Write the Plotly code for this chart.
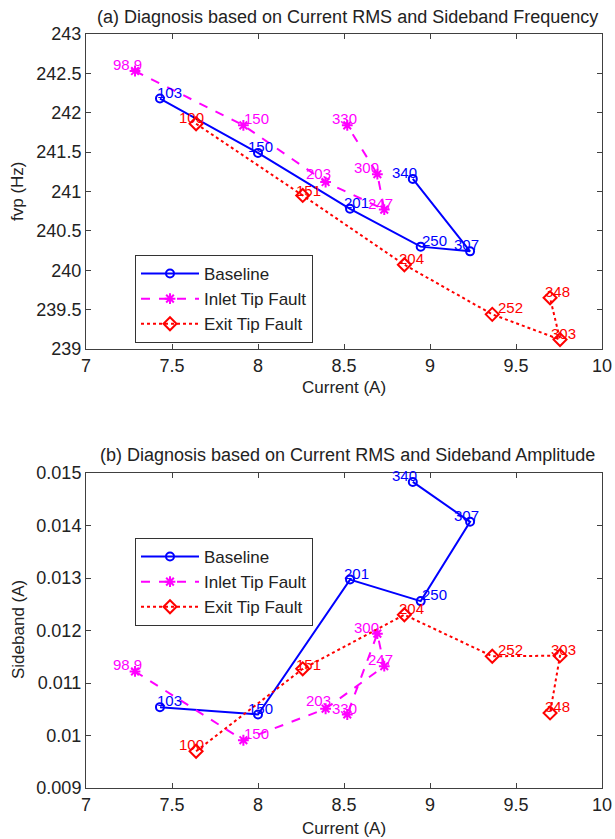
import plotly.graph_objects as go

# ---------------- data ----------------
current_baseline = [7.43, 8.00, 8.535, 8.946, 9.233, 8.90]
fvp_baseline = [242.18, 241.49, 240.78, 240.30, 240.24, 241.16]
sb_baseline = [0.01054, 0.01040, 0.01297, 0.01256, 0.01407, 0.01483]
labels_baseline = ["103", "150", "201", "250", "307", "340"]

current_inlet = [7.285, 7.915, 8.393, 8.734, 8.694, 8.519]
fvp_inlet = [242.53, 241.84, 241.12, 240.77, 241.22, 241.84]
sb_inlet = [0.01122, 0.00991, 0.01051, 0.01132, 0.01194, 0.01040]
labels_inlet = ["98.9", "150", "203", "247", "300", "330"]

current_exit = [7.64, 8.26, 8.851, 9.362, 9.756, 9.698]
fvp_exit = [241.86, 240.95, 240.07, 239.44, 239.12, 239.65]
sb_exit = [0.00970, 0.01127, 0.01230, 0.01151, 0.01152, 0.01043]
labels_exit = ["100", "151", "204", "252", "303", "348"]

x_ticks = [7, 7.5, 8, 8.5, 9, 9.5, 10]
x_ticktext = ["7", "7.5", "8", "8.5", "9", "9.5", "10"]
fvp_ticks = [239, 239.5, 240, 240.5, 241, 241.5, 242, 242.5, 243]
fvp_ticktext = ["239", "239.5", "240", "240.5", "241", "241.5", "242", "242.5", "243"]
sb_ticks = [0.009, 0.010, 0.011, 0.012, 0.013, 0.014, 0.015]
sb_ticktext = ["0.009", "0.01", "0.011", "0.012", "0.013", "0.014", "0.015"]

# label nudges (pixels), styling only
dx_baseline = [-4, -11, -7, 0, -17, -22]
dx_inlet = [-23, 0, -21, -17, -24, -16]
dx_exit = [-18, -8, -6, 5, -10, -6]
dy_baseline = [0, 0, 0, 0, 0, 0]
dy_inlet = [0, 0, 2, 0, 0, 0]
dy_exit = [0, -2, 0, 0, 0, 0]

FONT = "Liberation Sans, Arial, sans-serif"
BLUE, MAGENTA, RED = "#0000FF", "#FF00FF", "#FF0000"

series = [
    ("Baseline", current_baseline, fvp_baseline, sb_baseline, labels_baseline,
     dx_baseline, dy_baseline, BLUE, "solid", "circle-open", 8),
    ("Inlet Tip Fault", current_inlet, fvp_inlet, sb_inlet, labels_inlet,
     dx_inlet, dy_inlet, MAGENTA, "dash", "asterisk-open", 9),
    ("Exit Tip Fault", current_exit, fvp_exit, sb_exit, labels_exit,
     dx_exit, dy_exit, RED, "dot", "diamond-open", 10),
]

fig = go.Figure()
annotations = []

for name, cx, fy, sy, labs, dxs, dys, col, dash, sym, msize in series:
    for (yy, xa, ya, leg) in [(fy, "x", "y", "legend"), (sy, "x2", "y2", "legend2")]:
        fig.add_trace(go.Scatter(
            x=cx, y=yy, mode="lines+markers", name=name,
            xaxis=xa, yaxis=ya, legend=leg,
            line=dict(color=col, width=2, dash=dash),
            marker=dict(symbol=sym, size=msize, color=col,
                        line=dict(color=col, width=2)),
        ))
        for xv, yv, t, d, e in zip(cx, yy, labs, dxs, dys):
            annotations.append(dict(
                x=xv, y=yv, xref=xa, yref=ya, text=t, showarrow=False,
                xanchor="left", yanchor="bottom", xshift=d - 1, yshift=-4 + e,
                font=dict(family=FONT, size=15, color=col),
            ))

W, H = 615, 839
xdom = [86 / W, 602 / W]
ydom_top = [1 - 349 / H, 1 - 34 / H]
ydom_bot = [1 - 788 / H, 1 - 473 / H]

axis_common = dict(
    showline=True, linecolor="#404040", linewidth=1, mirror="ticks",
    ticks="inside", ticklen=5, tickcolor="#404040", showgrid=False,
    zeroline=False, tickfont=dict(family=FONT, size=18, color="#222222"),
    automargin=False,
)

legend_common = dict(
    xanchor="left", yanchor="top", bordercolor="#333333", borderwidth=1,
    bgcolor="white", font=dict(family=FONT, size=17, color="#222222"),
    tracegroupgap=0, itemwidth=58,
)

fig.update_layout(
    width=W, height=H, margin=dict(l=0, r=0, t=0, b=0),
    paper_bgcolor="white", plot_bgcolor="white",
    font=dict(family=FONT, color="#222222"),
    xaxis=dict(domain=xdom, range=[7, 10], tickvals=x_ticks, ticktext=x_ticktext,
               anchor="y", **axis_common),
    yaxis=dict(domain=ydom_top, range=[239, 243], tickvals=fvp_ticks,
               ticktext=fvp_ticktext, anchor="x", **axis_common),
    xaxis2=dict(domain=xdom, range=[7, 10], tickvals=x_ticks, ticktext=x_ticktext,
                anchor="y2", **axis_common),
    yaxis2=dict(domain=ydom_bot, range=[0.009, 0.015], tickvals=sb_ticks,
                ticktext=sb_ticktext, anchor="x2", **axis_common),
    legend=dict(x=135 / W, y=1 - 255 / H, **legend_common),
    legend2=dict(x=135 / W, y=1 - 538 / H, **legend_common),
    showlegend=True,
)

text_annots = [
    dict(text="(a) Diagnosis based on Current RMS and Sideband Frequency",
         x=347 / W, y=1 - 17 / H, size=18),
    dict(text="(b) Diagnosis based on Current RMS and Sideband Amplitude",
         x=347 / W, y=1 - 455 / H, size=18),
    dict(text="Current (A)", x=344 / W, y=1 - 387 / H, size=17),
    dict(text="Current (A)", x=344 / W, y=1 - 828 / H, size=17),
]
for a in text_annots:
    annotations.append(dict(
        text=a["text"], x=a["x"], y=a["y"], xref="paper", yref="paper",
        showarrow=False, xanchor="center", yanchor="middle",
        font=dict(family=FONT, size=a["size"], color="#222222"),
    ))
annotations.append(dict(text="fvp (Hz)", x=18 / W, y=1 - 191 / H, xref="paper",
                        yref="paper", showarrow=False, textangle=-90,
                        xanchor="center", yanchor="middle",
                        font=dict(family=FONT, size=17, color="#222222")))
annotations.append(dict(text="Sideband (A)", x=18 / W, y=1 - 630 / H, xref="paper",
                        yref="paper", showarrow=False, textangle=-90,
                        xanchor="center", yanchor="middle",
                        font=dict(family=FONT, size=17, color="#222222")))

fig.update_layout(annotations=annotations)
fig.write_html("out.html")
